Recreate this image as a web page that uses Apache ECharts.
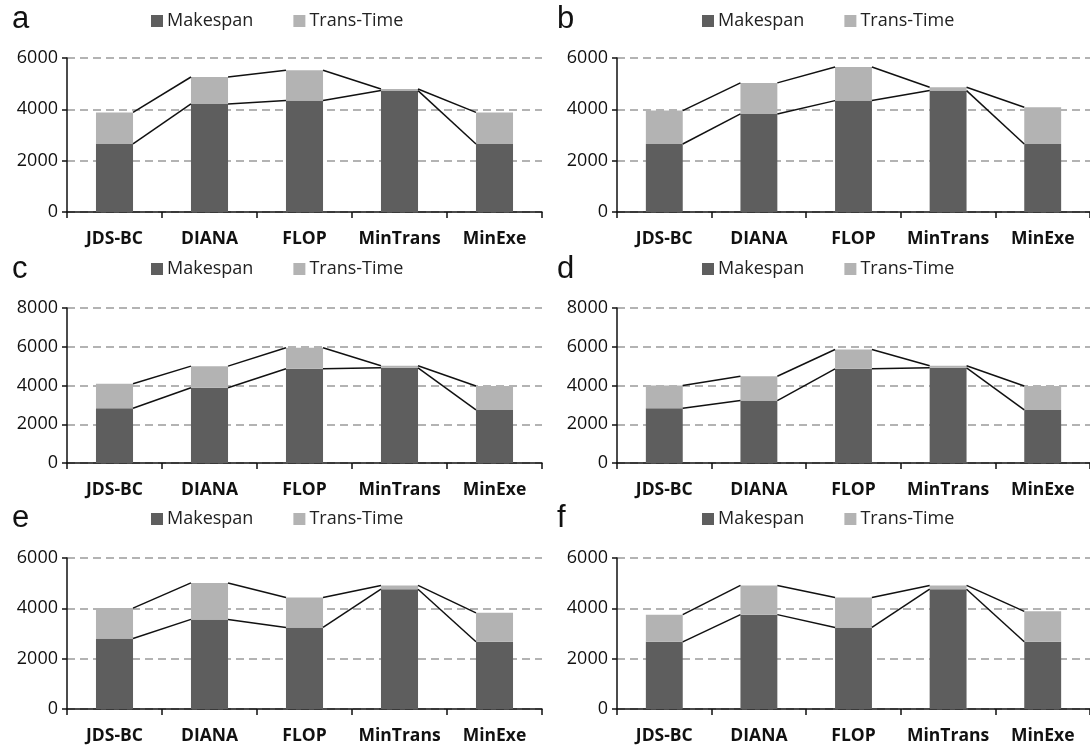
<!DOCTYPE html>
<html><head><meta charset="utf-8">
<script src="https://cdn.jsdelivr.net/npm/echarts@6/dist/echarts.min.js"></script>
<style>html,body{margin:0;padding:0;background:#fff}#c{width:1090px;height:745px}</style>
</head><body><div id="c"></div>
<script>
// ---- data ----
const categories = ['JDS-BC', 'DIANA', 'FLOP', 'MinTrans', 'MinExe'];
const panelLabels = ['a', 'b', 'c', 'd', 'e', 'f'];
const seriesNames = ['Makespan', 'Trans-Time'];

const makespanA = [2650, 4210, 4340, 4730, 2650];
const transA    = [1230, 1050, 1180,   60, 1230];
const makespanB = [2650, 3820, 4340, 4730, 2650];
const transB    = [1300, 1210, 1310,  130, 1430];
const makespanC = [2830, 3880, 4860, 4910, 2740];
const transC    = [1260, 1120, 1090,  110, 1230];
const makespanD = [2830, 3220, 4860, 4910, 2740];
const transD    = [1170, 1260, 1000,  110, 1230];
const makespanE = [2800, 3560, 3240, 4760, 2670];
const transE    = [1210, 1450, 1190,  150, 1150];
const makespanF = [2670, 3750, 3240, 4760, 2670];
const transF    = [1080, 1160, 1190,  150, 1210];

const yMaxes = [6000, 6000, 8000, 8000, 6000, 6000];
const yInterval = 2000;

// ---- layout ----
const panels = [
  {mk: makespanA, tr: transA, left: 67,  top: 58,  height: 154, lx: 12,  ly: 4,   legX: 151, legY: 12},
  {mk: makespanB, tr: transB, left: 617, top: 58,  height: 154, lx: 557, ly: 4,   legX: 702, legY: 12},
  {mk: makespanC, tr: transC, left: 67,  top: 308, height: 155, lx: 12,  ly: 254, legX: 151, legY: 260},
  {mk: makespanD, tr: transD, left: 617, top: 308, height: 155, lx: 557, ly: 254, legX: 702, legY: 260},
  {mk: makespanE, tr: transE, left: 67,  top: 558, height: 155, lx: 12,  ly: 503, legX: 151, legY: 510},
  {mk: makespanF, tr: transF, left: 617, top: 558, height: 155, lx: 557, ly: 503, legX: 702, legY: 510}
];
const plotWidth = 475;
const barRatio = 0.39;
const darkColor = '#5e5e5e';
const lightColor = '#b3b3b3';

const grid = [], xAxis = [], yAxis = [], series = [], title = [], legend = [];

function linesRender(mk, tr) {
  return function (params, api) {
    const i = api.value(0);
    const bw = api.size([1, 0])[0] * barRatio;
    const a1 = api.coord([i, mk[i]]);
    const a2 = api.coord([i + 1, mk[i + 1]]);
    const b1 = api.coord([i, mk[i] + tr[i]]);
    const b2 = api.coord([i + 1, mk[i + 1] + tr[i + 1]]);
    const st = {stroke: '#111', lineWidth: 1.5};
    return {
      type: 'group',
      children: [
        {type: 'line', shape: {x1: a1[0] + bw / 2, y1: a1[1], x2: a2[0] - bw / 2, y2: a2[1]}, style: st},
        {type: 'line', shape: {x1: b1[0] + bw / 2, y1: b1[1], x2: b2[0] - bw / 2, y2: b2[1]}, style: st}
      ]
    };
  };
}

panels.forEach((p, k) => {
  grid.push({left: p.left, top: p.top, width: plotWidth, height: p.height, containLabel: false});
  xAxis.push({
    type: 'category', gridIndex: k, data: categories, boundaryGap: true,
    axisLine: {lineStyle: {color: '#111', width: 1.5}},
    axisTick: {show: true, length: 6, inside: false, lineStyle: {color: '#111', width: 1.5}},
    axisLabel: {interval: 0, margin: 18, fontFamily: 'Open Sans', fontWeight: 'bold', fontSize: 17.5, color: '#111'},
    splitLine: {show: false}
  });
  yAxis.push({
    type: 'value', gridIndex: k, min: 0, max: yMaxes[k], interval: yInterval,
    axisLine: {show: true, lineStyle: {color: '#111', width: 1.5}},
    axisTick: {show: true, length: 5, lineStyle: {color: '#111', width: 1.5}},
    axisLabel: {margin: 9, fontFamily: 'Open Sans', fontSize: 18, color: '#111', formatter: v => String(v)},
    splitLine: {show: true, lineStyle: {color: '#9a9a9a', width: 1.5, type: [8, 5]}}
  });
  series.push({
    name: seriesNames[0], type: 'bar', stack: 's' + k, xAxisIndex: k, yAxisIndex: k,
    barWidth: (barRatio * 100) + '%', data: p.mk, itemStyle: {color: darkColor}, z: 2
  });
  series.push({
    name: seriesNames[1], type: 'bar', stack: 's' + k, xAxisIndex: k, yAxisIndex: k,
    barWidth: (barRatio * 100) + '%', data: p.tr, itemStyle: {color: lightColor}, z: 2
  });
  series.push({
    type: 'custom', xAxisIndex: k, yAxisIndex: k, z: 5, silent: true,
    data: [0, 1, 2, 3].map(i => [i, p.mk[i]]),
    encode: {x: 0, y: 1},
    renderItem: linesRender(p.mk, p.tr)
  });
  title.push({
    text: panelLabels[k], left: p.lx, top: p.ly, padding: 0,
    textStyle: {fontFamily: 'Liberation Sans', fontSize: 31, fontWeight: 'normal', color: '#111'}
  });
  legend.push({
    data: seriesNames, left: p.legX, top: p.legY, padding: 0,
    icon: 'rect', itemWidth: 12, itemHeight: 12, itemGap: 40,
    textStyle: {fontFamily: 'Open Sans', fontSize: 18, color: '#222', padding: [0, 0, 0, -1]}
  });
});

const chart = echarts.init(document.getElementById('c'), null, {renderer: 'canvas'});
chart.setOption({
  animation: false,
  backgroundColor: '#fff',
  title, legend, grid, xAxis, yAxis, series
});
</script>
</body></html>
